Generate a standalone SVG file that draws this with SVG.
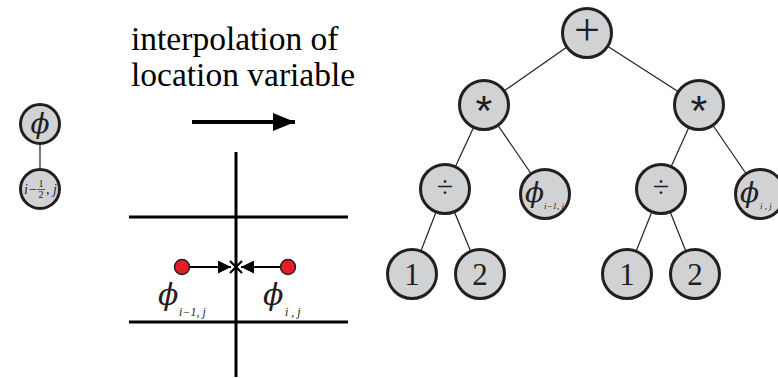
<svg xmlns="http://www.w3.org/2000/svg" width="778" height="378" viewBox="0 0 778 378">
<style>
.node{fill:#d1d2d4;stroke:#231f20;stroke-width:3}
.edge{stroke:#231f20;stroke-width:1.2;fill:none}
.grid{stroke:#000;stroke-width:3;fill:none}
.sym{font-family:'Liberation Serif','Times New Roman',serif;fill:#231f20;text-anchor:middle}
.ast{font-family:'Liberation Mono',monospace;fill:#231f20;text-anchor:middle}
.phi{font-family:'DejaVu Serif',serif;font-style:italic;fill:#231f20}
.sub{font-family:'Liberation Serif','Times New Roman',serif;font-style:italic;fill:#231f20}
.lbl{font-family:'Liberation Serif','Times New Roman',serif;font-size:33.5px;fill:#000}
</style>
<defs>
<marker id="ah" viewBox="0 0 10 10" refX="10" refY="5" markerWidth="13" markerHeight="13" markerUnits="userSpaceOnUse" orient="auto">
<path d="M0,0 L10,5 L0,10 z" fill="#000"/>
</marker>
<marker id="ahbig" viewBox="0 0 10 10" refX="10" refY="5" markerWidth="22" markerHeight="18" markerUnits="userSpaceOnUse" orient="auto" preserveAspectRatio="none">
<path d="M0,0 L10,5 L0,10 z" fill="#000"/>
</marker>
</defs>

<!-- left small tree -->
<g id="connectors-left">
<line class="edge" x1="40" y1="144" x2="40" y2="169"/>
</g>
<g id="leftPhi">
<circle class="node" cx="40" cy="124" r="19.5"/>
<text class="phi" x="40" y="133" font-size="28" text-anchor="middle">ϕ</text>
</g>
<g id="leftIndex">
<circle class="node" cx="40" cy="189" r="19.5"/>
<text class="sub" x="24" y="194" font-size="14">i−</text>
<text class="sym" x="41" y="187" font-size="10">1</text>
<line x1="37" y1="189.5" x2="45" y2="189.5" stroke="#231f20" stroke-width="0.7"/>
<text class="sym" x="41" y="198" font-size="10">2</text>
<text class="sub" x="46" y="194" font-size="14">, j</text>
</g>

<!-- title and arrow -->
<g id="title">
<text class="lbl" x="131" y="50">interpolation of</text>
<text class="lbl" x="131" y="86">location variable</text>
<line x1="192" y1="122" x2="295" y2="122" stroke="#000" stroke-width="4" marker-end="url(#ahbig)"/>
</g>

<!-- grid -->
<g id="grid">
<line class="grid" x1="236" y1="152" x2="236" y2="377"/>
<line class="grid" x1="129" y1="217" x2="348" y2="217"/>
<line class="grid" x1="129" y1="322" x2="348" y2="322"/>
</g>
<g id="gridArrows">
<line x1="190" y1="267" x2="231" y2="267" stroke="#000" stroke-width="1.8" marker-end="url(#ah)"/>
<line x1="281" y1="267" x2="241" y2="267" stroke="#000" stroke-width="1.8" marker-end="url(#ah)"/>
<path d="M230,261 L242,273 M242,261 L230,273" stroke="#000" stroke-width="2.2"/>
</g>
<g id="pointLeft">
<circle cx="182" cy="267" r="7.5" fill="#e41e26" stroke="#231f20" stroke-width="1.5"/>
<text class="phi" x="158" y="305" font-size="30">ϕ</text>
<text class="sub" x="179" y="316" font-size="12">i−1, j</text>
</g>
<g id="pointRight">
<circle cx="288" cy="267" r="7.5" fill="#e41e26" stroke="#231f20" stroke-width="1.5"/>
<text class="phi" x="263" y="305" font-size="30">ϕ</text>
<text class="sub" x="285" y="316" font-size="12">i , j</text>
</g>

<!-- big tree -->
<g id="connectors">
<line class="edge" x1="587" y1="33" x2="484" y2="105"/>
<line class="edge" x1="587" y1="33" x2="699" y2="105"/>
<line class="edge" x1="484" y1="105" x2="445" y2="189"/>
<line class="edge" x1="484" y1="105" x2="545" y2="194"/>
<line class="edge" x1="699" y1="105" x2="661" y2="189"/>
<line class="edge" x1="699" y1="105" x2="760" y2="194"/>
<line class="edge" x1="445" y1="189" x2="412" y2="274"/>
<line class="edge" x1="445" y1="189" x2="480" y2="274"/>
<line class="edge" x1="661" y1="189" x2="627" y2="274"/>
<line class="edge" x1="661" y1="189" x2="695" y2="274"/>
</g>
<g id="plus">
<circle class="node" cx="587" cy="33" r="24.5"/>
<text class="sym" x="587" y="45" font-size="46">+</text>
</g>
<g id="mulLeft">
<circle class="node" cx="484" cy="105" r="24.5"/>
<text class="ast" x="484" y="127" font-size="43">*</text>
</g>
<g id="mulRight">
<circle class="node" cx="699" cy="105" r="24.5"/>
<text class="ast" x="699" y="127" font-size="43">*</text>
</g>
<g id="divLeft">
<circle class="node" cx="445" cy="189" r="24.5"/>
<text class="sym" x="445" y="197" font-size="30">÷</text>
</g>
<g id="phiLeft">
<circle class="node" cx="545" cy="194" r="24.5"/>
<text class="phi" x="525" y="202" font-size="28">ϕ</text>
<text class="sub" x="544" y="209" font-size="9">i−1, j</text>
</g>
<g id="divRight">
<circle class="node" cx="661" cy="189" r="24.5"/>
<text class="sym" x="661" y="197" font-size="30">÷</text>
</g>
<g id="phiRight">
<circle class="node" cx="760" cy="194" r="24.5"/>
<text class="phi" x="740" y="202" font-size="28">ϕ</text>
<text class="sub" x="760" y="209" font-size="9">i , j</text>
</g>
<g id="oneLeft">
<circle class="node" cx="412" cy="274" r="24.5"/>
<text class="sym" x="412" y="285" font-size="31">1</text>
</g>
<g id="twoLeft">
<circle class="node" cx="480" cy="274" r="24.5"/>
<text class="sym" x="480" y="285" font-size="31">2</text>
</g>
<g id="oneRight">
<circle class="node" cx="627" cy="274" r="24.5"/>
<text class="sym" x="627" y="285" font-size="31">1</text>
</g>
<g id="twoRight">
<circle class="node" cx="695" cy="274" r="24.5"/>
<text class="sym" x="695" y="285" font-size="31">2</text>
</g>
</svg>
